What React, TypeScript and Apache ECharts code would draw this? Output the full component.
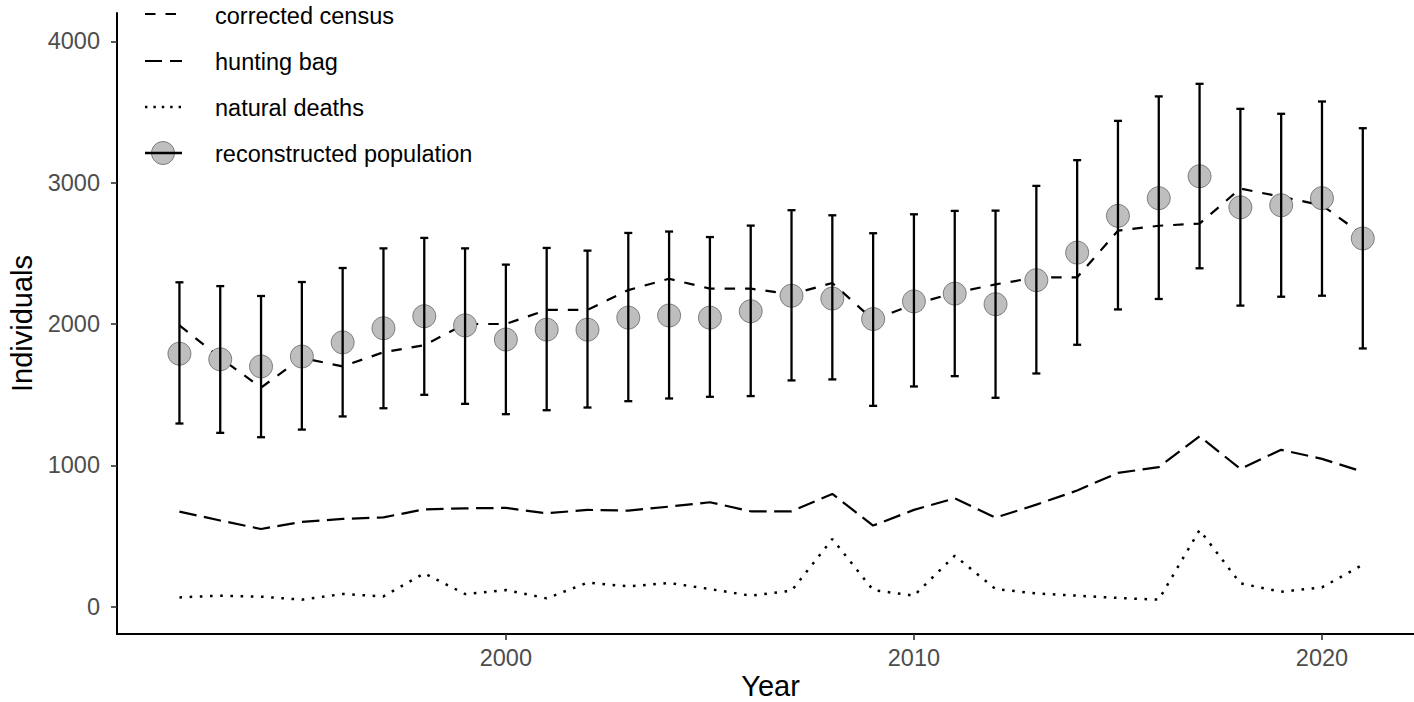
import React, { useEffect, useRef } from "react";
import * as echarts from "echarts";

const years = [1992,1993,1994,1995,1996,1997,1998,1999,2000,2001,2002,2003,2004,2005,2006,2007,2008,2009,2010,2011,2012,2013,2014,2015,2016,2017,2018,2019,2020,2021];
const reconstructed = [1790,1750,1700,1770,1870,1970,2055,1990,1890,1960,1960,2045,2060,2045,2090,2200,2180,2035,2160,2215,2140,2310,2505,2765,2890,3045,2825,2840,2890,2605];
const upperCI = [2295,2268,2198,2297,2396,2535,2609,2535,2420,2538,2519,2644,2654,2615,2696,2805,2769,2642,2776,2800,2802,2977,3159,3437,3610,3699,3522,3487,3574,3385];
const lowerCI = [1296,1230,1199,1253,1346,1404,1499,1435,1362,1390,1409,1454,1473,1485,1490,1601,1608,1421,1558,1631,1478,1650,1853,2103,2177,2394,2130,2193,2200,1827];
const correctedCensus = [1990,1760,1550,1760,1700,1800,1850,2000,2000,2100,2100,2240,2320,2250,2250,2210,2290,2030,2140,2220,2280,2330,2330,2660,2695,2710,2958,2900,2840,2630];
const huntingBag = [673,610,550,600,621,632,689,696,699,661,685,680,708,739,675,675,798,574,685,767,630,722,822,947,987,1206,975,1110,1046,955];
const naturalDeaths = [66,78,71,50,90,73,236,90,118,59,170,144,168,125,78,113,479,118,78,361,125,94,78,62,50,543,165,106,137,297];
const xTicks = [2000, 2010, 2020];
const yTicks = [0, 1000, 2000, 3000, 4000];
const legendLabels = ["corrected census", "hunting bag", "natural deaths", "reconstructed population"];

const FONT = '"Liberation Sans", Arial, sans-serif';

export default function App() {
  const ref = useRef<HTMLDivElement>(null);
  useEffect(() => {
    if (!ref.current) return;
    const chart = echarts.init(ref.current, null, { renderer: "svg" });
    const pair = (arr: number[]) => years.map((y, i) => [y, arr[i]]);
    const lineW = 2.2;
    const legendY = [16, 62, 108, 154];
    const keyY = [14, 61, 107, 153];
    const graphic: any[] = [];
    const dashes = [[10.5, 10], [17, 8], [2.4, 6]];
    for (let i = 0; i < 3; i++) {
      graphic.push({
        type: "line",
        shape: { x1: 145, y1: keyY[i], x2: 182, y2: keyY[i] },
        style: { stroke: "#000", lineWidth: i === 2 ? 2.5 : lineW, lineDash: dashes[i] },
      });
    }
    graphic.push({
      type: "circle",
      shape: { cx: 163, cy: keyY[3], r: 11.5 },
      style: { fill: "#BEBEBE", stroke: "#555", lineWidth: 0.7 },
    });
    graphic.push({
      type: "line",
      shape: { x1: 145, y1: keyY[3], x2: 182, y2: keyY[3] },
      style: { stroke: "#000", lineWidth: 2.3 },
    });
    legendLabels.forEach((t, i) => {
      graphic.push({
        type: "text",
        x: 215,
        y: legendY[i],
        style: { text: t, font: `23.5px ${FONT}`, fill: "#000", verticalAlign: "middle", align: "left" },
      });
    });

    const plain = (v: number) => String(v);

    chart.setOption({
      animation: false,
      backgroundColor: "#fff",
      grid: { left: 117, top: 13, width: 1307, height: 621, containLabel: false, outerBoundsMode: "none" },
      xAxis: {
        type: "value",
        min: 1990.47,
        max: 2022.5,
        name: "Year",
        nameLocation: "middle",
        nameGap: 37,
        nameMoveOverlap: false,
        nameTextStyle: { fontSize: 29, color: "#000", fontFamily: FONT },
        splitLine: { show: false },
        axisLine: { show: true, onZero: false, lineStyle: { color: "#000", width: 2 } },
        axisTick: { show: true, length: 6, customValues: xTicks, lineStyle: { color: "#333", width: 1.6 } },
        axisLabel: { customValues: xTicks, formatter: plain, fontSize: 23.5, color: "#4D4D4D", fontFamily: FONT, margin: 12 },
      },
      yAxis: {
        type: "value",
        min: -193,
        max: 4200,
        name: "Individuals",
        nameLocation: "middle",
        nameGap: 75,
        nameTextStyle: { fontSize: 29, color: "#000", fontFamily: FONT },
        splitLine: { show: false },
        axisLine: { show: true, onZero: false, lineStyle: { color: "#000", width: 2 } },
        axisTick: { show: true, length: 6, customValues: yTicks, lineStyle: { color: "#333", width: 1.6 } },
        axisLabel: { customValues: yTicks, formatter: plain, fontSize: 23.5, color: "#4D4D4D", fontFamily: FONT, margin: 17 },
      },
      graphic,
      series: [
        {
          name: "corrected census",
          type: "line",
          data: pair(correctedCensus),
          symbol: "none",
          z: 2,
          lineStyle: { color: "#000", width: lineW, type: [10.5, 10] },
        },
        {
          name: "hunting bag",
          type: "line",
          data: pair(huntingBag),
          symbol: "none",
          z: 2,
          lineStyle: { color: "#000", width: lineW, type: [17.5, 7.5] },
        },
        {
          name: "natural deaths",
          type: "line",
          data: pair(naturalDeaths),
          symbol: "none",
          z: 2,
          lineStyle: { color: "#000", width: 2.5, type: [2.6, 7.6] },
        },
        {
          name: "reconstructed population",
          type: "scatter",
          data: pair(reconstructed),
          symbol: "circle",
          symbolSize: 23,
          z: 3,
          itemStyle: { color: "#BEBEBE", borderColor: "#555", borderWidth: 0.7, opacity: 1 },
        },
        {
          name: "reconstructed population CI",
          type: "custom",
          z: 4,
          data: years.map((y, i) => [y, lowerCI[i], upperCI[i]]),
          encode: { x: 0, y: [1, 2] },
          renderItem: (params: any, api: any) => {
            const x = api.value(0);
            const lo = api.coord([x, api.value(1)]);
            const hi = api.coord([x, api.value(2)]);
            const hw = 4;
            const st = { stroke: "#000", lineWidth: 2.3 };
            return {
              type: "group",
              children: [
                { type: "line", shape: { x1: lo[0], y1: lo[1], x2: hi[0], y2: hi[1] }, style: st },
                { type: "line", shape: { x1: lo[0] - hw, y1: lo[1], x2: lo[0] + hw, y2: lo[1] }, style: st },
                { type: "line", shape: { x1: hi[0] - hw, y1: hi[1], x2: hi[0] + hw, y2: hi[1] }, style: st },
              ],
            };
          },
        },
      ],
    });
    return () => chart.dispose();
  }, []);
  return (
    <div
      ref={ref}
      style={{ position: "absolute", left: 0, top: 0, width: 1414, height: 702, background: "#fff" }}
    />
  );
}
